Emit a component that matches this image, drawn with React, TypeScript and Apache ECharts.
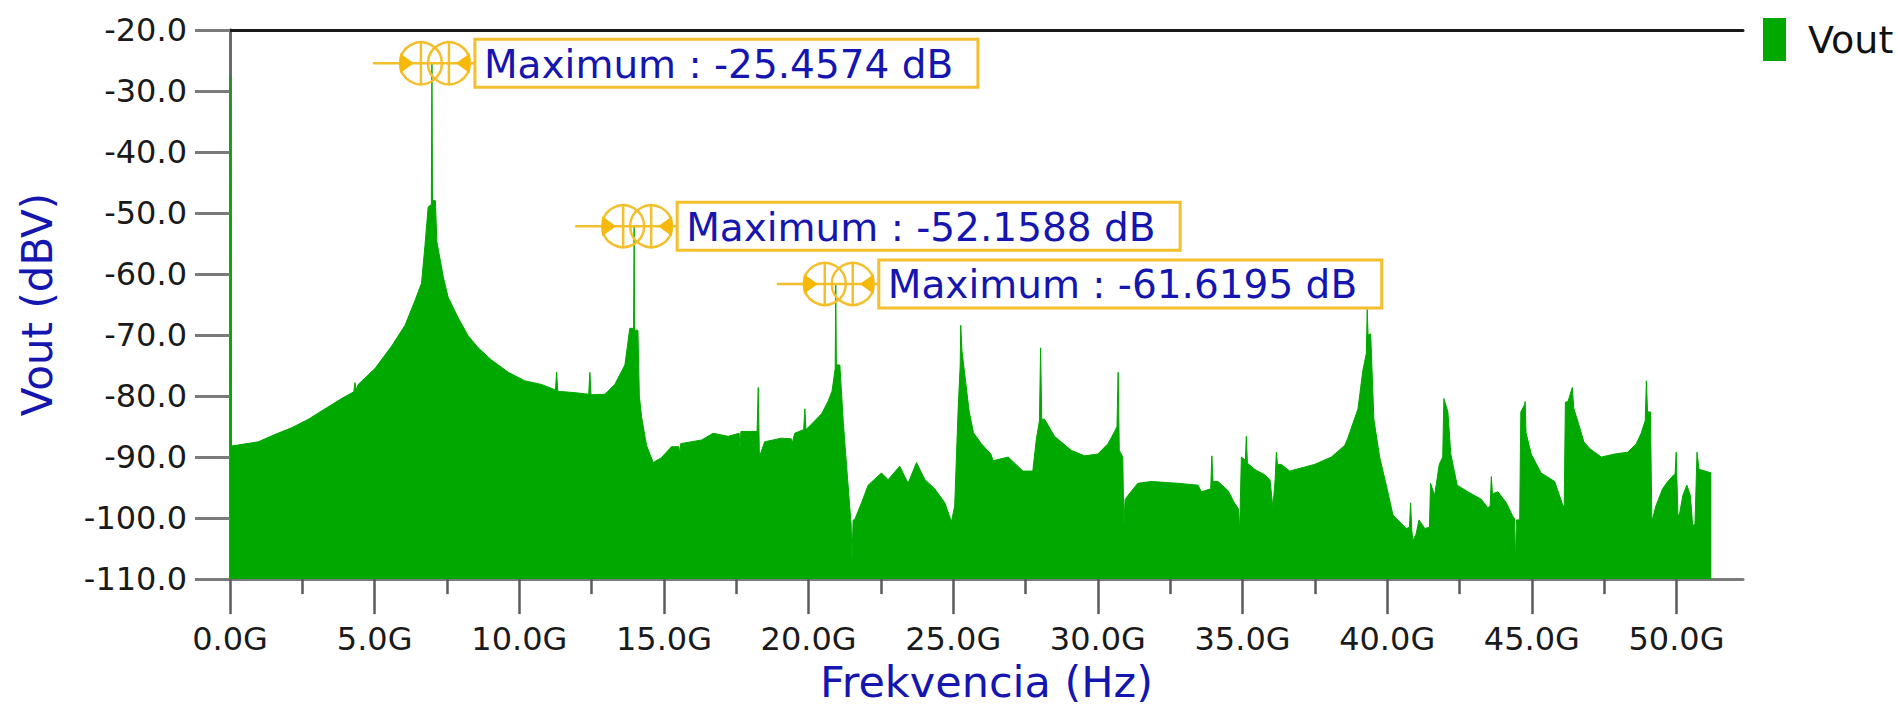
import React, { useEffect, useRef } from "react";
import * as echarts from "echarts";

// Spectrum envelope (frequency in GHz, level in dBV)
const freqGHz = [
  0.0, 0.04, 0.98, 1.55, 2.13, 2.71, 3.28, 3.86, 4.28, 4.32, 4.36, 4.43, 5.01, 5.59, 6.05, 6.39, 6.62, 6.74, 6.85, 6.96,
  6.98, 7.0, 7.1, 7.15, 7.37, 7.54, 7.89, 8.23, 8.58, 9.04, 9.62, 10.19, 10.77, 11.25, 11.29, 11.33, 12.04, 12.4, 12.44, 12.48,
  12.96, 13.3, 13.65, 13.82, 13.95, 13.97, 13.99, 14.1, 14.15, 14.23, 14.4, 14.63, 14.91, 15.26, 15.52, 15.55, 15.58, 16.3, 16.7, 17.22,
  17.6, 17.63, 17.66, 18.22, 18.26, 18.3, 18.48, 19.06, 19.4, 19.43, 19.52, 19.83, 19.87, 19.91, 20.1, 20.45, 20.67, 20.81, 20.92, 20.94,
  20.96, 21.08, 21.2, 21.31, 21.43, 21.47, 21.5, 21.54, 21.59, 21.83, 22.06, 22.52, 22.75, 23.15, 23.44, 23.73, 24.02, 24.36, 24.71, 24.94,
  25.05, 25.17, 25.24, 25.26, 25.3, 25.4, 25.55, 25.7, 25.97, 26.3, 26.38, 26.9, 27.41, 27.75, 27.87, 27.98, 28.02, 28.06, 28.16, 28.5,
  29.08, 29.54, 30.0, 30.35, 30.58, 30.66, 30.7, 30.74, 30.86, 30.9, 30.94, 31.04, 31.38, 31.85, 32.77, 33.46, 33.58, 33.9, 33.94, 33.98,
  34.15, 34.5, 34.72, 34.86, 34.9, 34.96, 35.1, 35.13, 35.17, 35.42, 35.76, 35.95, 36.05, 36.13, 36.17, 36.21, 36.34, 36.63, 37.49, 38.07,
  38.53, 38.64, 38.99, 39.16, 39.28, 39.31, 39.34, 39.43, 39.54, 39.74, 39.97, 40.2, 40.49, 40.66, 40.77, 40.81, 40.85, 40.89, 41.0, 41.1,
  41.3, 41.46, 41.5, 41.64, 41.8, 41.92, 41.96, 42.1, 42.2, 42.42, 42.79, 43.25, 43.48, 43.56, 43.6, 43.64, 43.83, 44.12, 44.35, 44.4,
  44.43, 44.47, 44.58, 44.62, 44.74, 44.77, 44.8, 44.98, 45.32, 45.79, 46.08, 46.12, 46.16, 46.25, 46.4, 46.45, 46.6, 46.8, 47.0, 47.4,
  47.86, 48.32, 48.61, 48.78, 48.92, 48.96, 49.0, 49.1, 49.15, 49.29, 49.52, 49.7, 49.91, 49.95, 49.99, 50.05, 50.1, 50.22, 50.36, 50.48,
  50.56, 50.64, 50.71, 50.78, 51.2,
];
const voutDb = [
  -27.6, -88.2, -87.5, -86.3, -85.2, -83.8, -82.1, -80.4, -79.3, -77.8, -79.0, -78.1, -75.5, -71.8, -68.4, -64.4, -61.5, -55.3, -49.0, -48.6,
  -25.4574, -47.9, -48.0, -54.7, -60.4, -63.8, -67.2, -70.1, -72.1, -74.1, -76.1, -77.5, -78.1, -79.0, -76.1, -79.2, -79.5, -79.7, -76.1, -79.8,
  -79.7, -78.1, -74.9, -68.9, -68.9, -52.1588, -69.2, -69.2, -80.0, -83.5, -88.1, -90.9, -90.1, -88.3, -88.3, -89.8, -87.8, -87.2, -86.1, -86.6,
  -86.1, -88.6, -85.8, -85.8, -78.6, -90.0, -87.5, -86.9, -87.0, -87.8, -86.1, -85.5, -82.1, -85.5, -84.6, -82.9, -80.9, -79.2, -75.5, -61.6195,
  -74.9, -74.9, -84.3, -91.2, -98.6, -101.0, -106.9, -100.3, -100.3, -97.5, -94.6, -92.6, -93.7, -91.5, -94.3, -90.9, -93.7, -95.2, -97.5, -100.6,
  -98.0, -82.1, -75.0, -68.4, -72.5, -76.5, -82.5, -86.0, -87.8, -89.5, -90.6, -90.0, -92.3, -92.3, -87.2, -84.0, -72.1, -83.8, -83.8, -86.6,
  -88.9, -89.8, -89.5, -87.8, -85.8, -85.0, -76.1, -88.9, -90.0, -101.2, -97.0, -96.3, -94.3, -94.0, -94.3, -94.6, -95.7, -95.2, -89.8, -94.0,
  -94.0, -95.5, -97.5, -98.5, -102.3, -90.0, -90.5, -86.6, -91.0, -92.0, -92.9, -93.7, -98.3, -93.5, -89.2, -91.2, -91.2, -92.3, -91.2, -90.0,
  -88.1, -86.9, -82.1, -75.8, -73.0, -65.8, -70.0, -69.8, -83.8, -90.0, -94.6, -99.5, -100.9, -101.7, -101.5, -97.5, -102.0, -103.7, -102.6, -100.3,
  -101.7, -101.5, -94.3, -96.3, -91.2, -90.0, -80.4, -82.6, -89.5, -94.6, -95.7, -96.9, -98.3, -98.0, -93.2, -96.0, -95.7, -97.5, -99.8, -100.0,
  -107.2, -100.3, -100.3, -82.6, -81.5, -80.9, -86.0, -89.5, -92.6, -94.0, -98.0, -98.0, -81.0, -80.9, -78.6, -82.0, -84.3, -87.5, -88.6, -90.0,
  -89.5, -89.2, -87.8, -86.1, -84.0, -77.5, -82.6, -82.6, -100.6, -98.0, -95.2, -94.0, -92.9, -92.9, -89.2, -99.5, -99.5, -96.3, -94.6, -96.3,
  -101.2, -101.0, -89.2, -92.0, -92.6,
];

// Maximum markers
const peakFreqGHz = [6.98, 13.97, 20.94];
const peakDb = [-25.4574, -52.1588, -61.6195];

// Axis ticks
const xMajorTicks = [0, 5, 10, 15, 20, 25, 30, 35, 40, 45, 50];
const xMinorTicks = [2.5, 7.5, 12.5, 17.5, 22.5, 27.5, 32.5, 37.5, 42.5, 47.5];
const xMin = 0;
const xMax = 52.3;
const yMin = -110;
const yMax = -20;
const yStep = 10;

const seriesName = "Vout";
const xTitle = "Frekvencia (Hz)";
const yTitle = "Vout (dBV)";

const GREEN = "#00a800";
const ORANGE = "#f3bf2c";
const ORANGE_FILL = "#f6b90a";
const BLUE = "#1515b0";
const FONT = "DejaVu Sans";

export default function App() {
  const ref = useRef<HTMLDivElement>(null);

  useEffect(() => {
    if (!ref.current) return;
    const chart = echarts.init(ref.current, null, { renderer: "svg" });

    const lineData = freqGHz.map((f, i) => [f, voutDb[i]]);
    const peakData = peakFreqGHz.map((f, i) => [f, peakDb[i]]);

    const option: any = {
      animation: false,
      backgroundColor: "#ffffff",
      grid: { left: 230, right: 155, top: 30, bottom: 125, containLabel: false },
      legend: {
        left: 1758,
        top: 13,
        icon: "rect",
        itemWidth: 23,
        itemHeight: 43,
        data: [seriesName],
        textStyle: { fontSize: 38, fontFamily: FONT, color: "#111", padding: [0, 0, 0, 17] },
      },
      xAxis: [
        {
          type: "value",
          position: "bottom",
          min: xMin,
          max: xMax,
          name: xTitle,
          nameLocation: "middle",
          nameGap: 80,
          nameTextStyle: { color: BLUE, fontSize: 43, fontFamily: FONT },
          axisLine: { show: true, lineStyle: { color: "#7a7a7a", width: 3 } },
          axisTick: {
            show: true,
            length: 35,
            customValues: xMajorTicks,
            lineStyle: { color: "#5a5a5a", width: 2.5 },
          },
          axisLabel: {
            customValues: xMajorTicks,
            margin: 44,
            fontSize: 32,
            fontFamily: FONT,
            color: "#1a1a1a",
            formatter: (v: number) => v.toFixed(1) + "G",
          },
          splitLine: { show: false },
        },
        {
          type: "value",
          position: "bottom",
          min: xMin,
          max: xMax,
          axisLine: { show: false },
          axisTick: {
            show: true,
            length: 15,
            customValues: xMinorTicks,
            lineStyle: { color: "#5a5a5a", width: 2.5 },
          },
          axisLabel: { show: false },
          splitLine: { show: false },
        },
        {
          type: "value",
          position: "top",
          min: xMin,
          max: xMax,
          axisLine: { show: true, lineStyle: { color: "#1a1a1a", width: 3 } },
          axisTick: { show: false },
          axisLabel: { show: false },
          splitLine: { show: false },
        },
      ],
      yAxis: [
        {
          type: "value",
          position: "left",
          min: yMin,
          max: yMax,
          interval: yStep,
          name: yTitle,
          nameLocation: "middle",
          nameRotate: 90,
          nameGap: 172,
          nameTextStyle: { color: BLUE, fontSize: 42, fontFamily: FONT },
          axisLine: { show: true, lineStyle: { color: "#8a8a8a", width: 3 } },
          axisTick: { show: true, length: 35, lineStyle: { color: "#7a7a7a", width: 3 } },
          axisLabel: {
            margin: 43,
            fontSize: 32,
            fontFamily: FONT,
            color: "#1a1a1a",
            formatter: (v: number) => v.toFixed(1),
          },
          splitLine: { show: false },
        },
        {
          type: "value",
          position: "right",
          min: yMin,
          max: yMax,
          interval: yStep,
          axisLine: { show: true, lineStyle: { color: "#6a6a6a", width: 3 } },
          axisTick: { show: false },
          axisLabel: { show: false },
          splitLine: { show: false },
        },
      ],
      series: [
        {
          name: seriesName,
          type: "line",
          xAxisIndex: 0,
          yAxisIndex: 0,
          data: lineData,
          color: GREEN,
          showSymbol: false,
          symbol: "none",
          lineStyle: { color: GREEN, width: 1 },
          areaStyle: { color: GREEN, opacity: 1, origin: "start" },
          z: 2,
        },
        {
          name: "markers",
          type: "custom",
          xAxisIndex: 0,
          yAxisIndex: 0,
          data: peakData,
          clip: false,
          z: 10,
          renderItem: (params: any, api: any) => {
            const val = api.value(1) as number;
            const p = api.coord([api.value(0), val]);
            const x = p[0];
            const y = p[1];
            const label = "Maximum : " + val.toFixed(4) + " dB";
            const st = { stroke: ORANGE, lineWidth: 2.5, fill: "none" };
            return {
              type: "group",
              children: [
                { type: "line", shape: { x1: x - 59, y1: y, x2: x + 43, y2: y }, style: st },
                { type: "circle", shape: { cx: x - 11, cy: y, r: 21 }, style: st },
                { type: "circle", shape: { cx: x + 17, cy: y, r: 21 }, style: st },
                { type: "line", shape: { x1: x - 11, y1: y - 21, x2: x - 11, y2: y + 21 }, style: st },
                { type: "line", shape: { x1: x + 17, y1: y - 21, x2: x + 17, y2: y + 21 }, style: st },
                {
                  type: "polygon",
                  shape: { points: [[x - 32, y - 10], [x - 32, y + 10], [x - 18, y]] },
                  style: { fill: ORANGE_FILL },
                },
                {
                  type: "polygon",
                  shape: { points: [[x + 38, y - 10], [x + 38, y + 10], [x + 24, y]] },
                  style: { fill: ORANGE_FILL },
                },
                {
                  type: "rect",
                  shape: { x: x + 43, y: y - 24, width: 503, height: 48 },
                  style: { fill: "#ffffff", stroke: ORANGE, lineWidth: 3 },
                },
                {
                  type: "text",
                  x: x + 52,
                  y: y + 1,
                  style: {
                    text: label,
                    fill: BLUE,
                    fontSize: 39,
                    fontFamily: FONT,
                    align: "left",
                    verticalAlign: "middle",
                  },
                },
              ],
            };
          },
        },
      ],
    };

    chart.setOption(option);
    return () => chart.dispose();
  }, []);

  return (
    <div
      ref={ref}
      style={{ position: "absolute", left: 0, top: 0, width: 1898, height: 708, background: "#fff" }}
    />
  );
}
